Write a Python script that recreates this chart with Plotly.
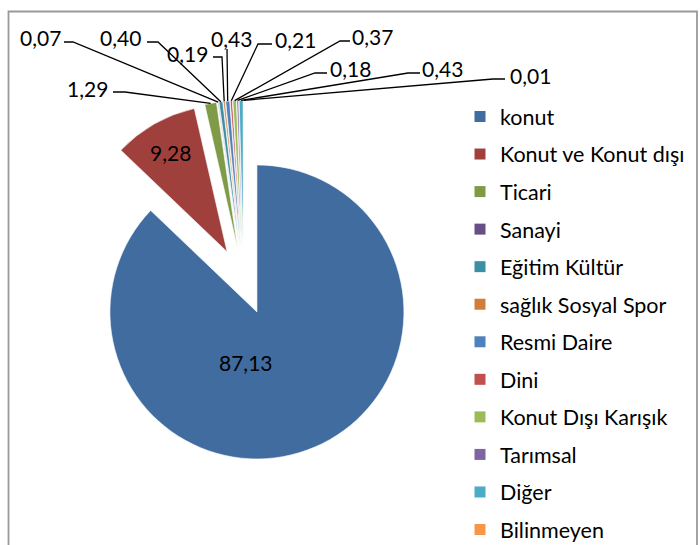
import math
import plotly.graph_objects as go

# Building use shares (%)
categories = ["konut", "Konut ve Konut dışı", "Ticari", "Sanayi", "Eğitim Kültür",
              "sağlık Sosyal Spor", "Resmi Daire", "Dini", "Konut Dışı Karışık",
              "Tarımsal", "Diğer", "Bilinmeyen"]
shares = [87.13, 9.28, 1.29, 0.07, 0.40, 0.19, 0.43, 0.21, 0.37, 0.18, 0.43, 0.01]
colors = ["#416c9f", "#a0403d", "#7f9b48", "#674f86", "#3b8fa5", "#d17c38",
          "#4f81bd", "#c0504d", "#9bbb59", "#8064a2", "#4bacc6", "#f79646"]

W, H = 700, 545
FONT = "Lato"
FS = 21
LEGEND_FS = 21.5

# pie geometry in pixels
PIE_CX, PIE_CY = 243.7, 281.0
PIE_R = 147.0
PULL = 0.229
OUTER = PIE_R * (1 + PULL)

# position of the value label inside the largest slice
MAIN_LABEL = (246, 362)

# callout layout for the thin slices:
# index -> (text x, text y, attach x, attach y, elbow x)
callouts = {
    2: (87, 88, 113, 92, 125),
    3: (40, 37, 64, 42, 73),
    4: (120, 37, 147, 42, 158),
    5: (187, 53, 213, 57, 222),
    6: (231, 38, 227, 49, 227),
    7: (295, 39, 272, 44, 258),
    8: (372, 36, 350, 41, 340),
    9: (350, 68, 327, 73, 315),
    10: (442, 68, 420, 73, 408),
    11: (530, 75, 505, 79, 493),
}


def fmt(v):
    return f"{v:.2f}".replace(".", ",")


total = sum(shares)
mid_angles = []
acc = 0.0
for v in shares:
    mid_angles.append((acc + v / 2) / total * 2 * math.pi)
    acc += v

fig = go.Figure()

textpos = ["inside" if i == 1 else "none" for i in range(len(shares))]
fig.add_trace(go.Pie(
    labels=categories, values=shares, sort=False, direction="clockwise",
    rotation=0, pull=[PULL] * len(shares),
    marker=dict(colors=colors, line=dict(color="white", width=0.6)),
    texttemplate="%{value:.2f}", textposition=textpos,
    insidetextorientation="horizontal",
    textfont=dict(family=FONT, size=FS, color="black"),
    showlegend=False, hoverinfo="label+value",
    domain=dict(x=[(PIE_CX - OUTER) / W, (PIE_CX + OUTER) / W],
                y=[1 - (PIE_CY + OUTER) / H, 1 - (PIE_CY - OUTER) / H]),
))

# legend entries
for name, c in zip(categories, colors):
    fig.add_trace(go.Scatter(
        x=[None], y=[None], mode="markers", name=name, legendgroup=name,
        marker=dict(symbol="square", size=11, color=c), showlegend=True,
    ))

shapes = []
annotations = [dict(
    x=MAIN_LABEL[0], y=MAIN_LABEL[1], xref="x", yref="y", text=fmt(shares[0]),
    showarrow=False, font=dict(family=FONT, size=FS, color="black"),
)]
for i, (tx, ty, ax_, ay_, ex) in callouts.items():
    a = mid_angles[i]
    px = PIE_CX + OUTER * math.sin(a)
    py = PIE_CY - OUTER * math.cos(a)
    shapes.append(dict(
        type="path", xref="x", yref="y",
        path=f"M {px:.1f},{py:.1f} L {ex},{ay_} L {ax_},{ay_}",
        line=dict(color="black", width=1.3),
    ))
    annotations.append(dict(
        x=tx, y=ty, xref="x", yref="y", text=fmt(shares[i]), showarrow=False,
        font=dict(family=FONT, size=FS, color="black"),
        xanchor="center", yanchor="middle",
    ))

# chart frame
shapes.append(dict(type="rect", xref="paper", yref="paper",
                   x0=8.5 / W, x1=697 / W, y0=-0.1, y1=1 - 11.5 / H,
                   line=dict(color="#9a9a9a", width=1.8), layer="below"))

fig.update_layout(
    width=W, height=H, margin=dict(l=0, r=0, t=0, b=0, autoexpand=False),
    paper_bgcolor="white", plot_bgcolor="white",
    separators=",.",
    xaxis=dict(visible=False, range=[0, W], domain=[0, 1], fixedrange=True),
    yaxis=dict(visible=False, range=[H, 0], domain=[0, 1], fixedrange=True),
    shapes=shapes, annotations=annotations,
    legend=dict(x=460 / W, y=1 - 96 / H, xanchor="left", yanchor="top",
                font=dict(family=FONT, size=LEGEND_FS, color="black"),
                tracegroupgap=6.6, itemwidth=30, bgcolor="rgba(0,0,0,0)"),
    font=dict(family=FONT),
)

fig.write_html("out.html")
